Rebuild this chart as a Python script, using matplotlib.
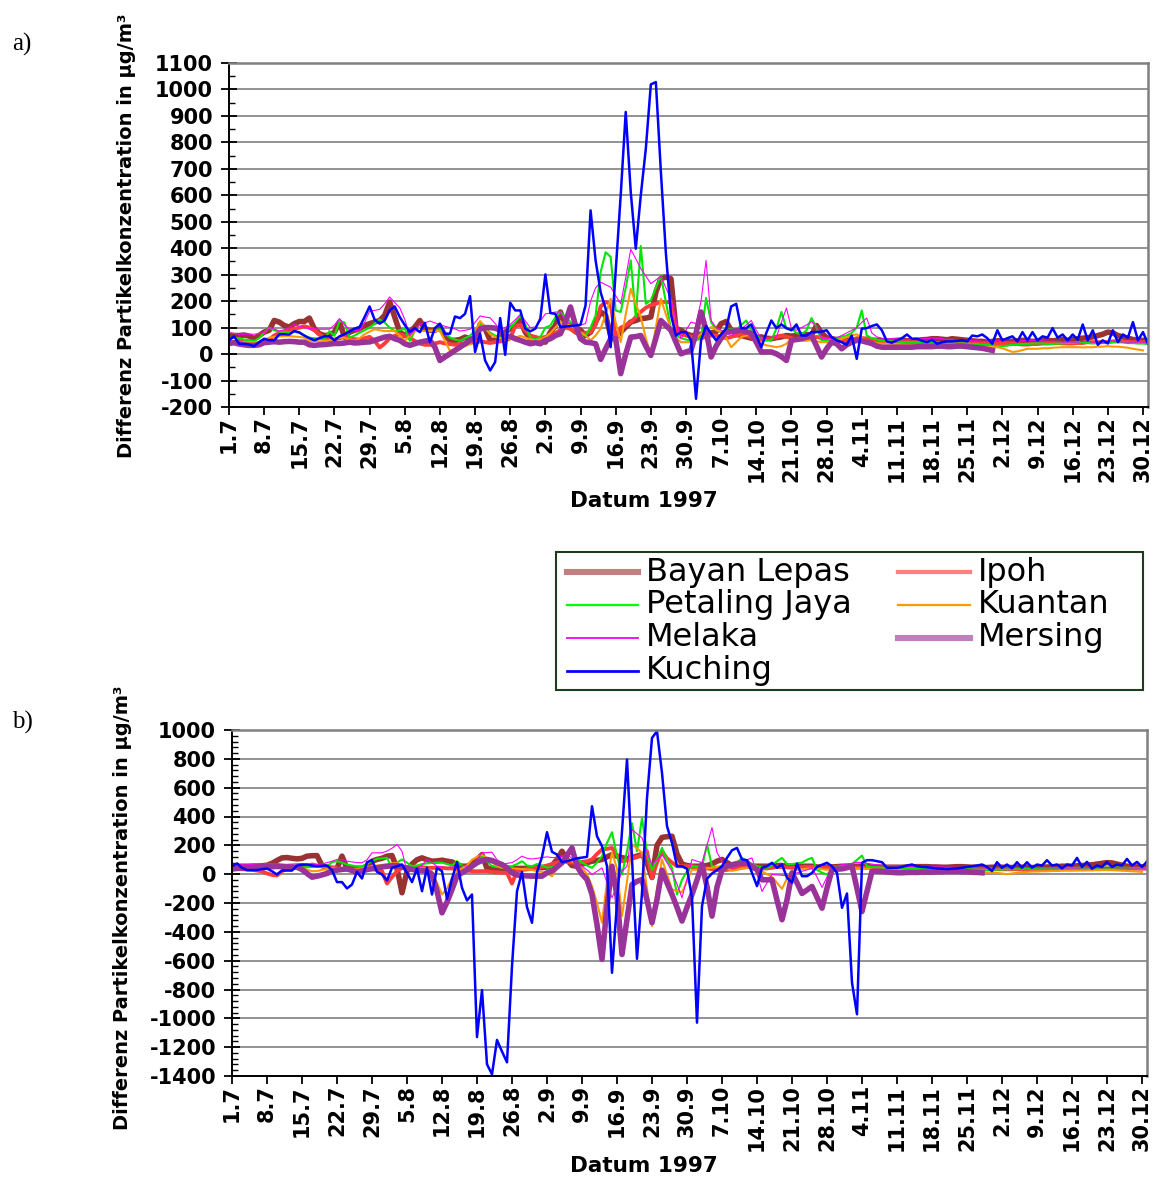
import numpy as np
import matplotlib
matplotlib.use('Agg')
import matplotlib.pyplot as plt
from matplotlib.lines import Line2D
from matplotlib.patches import Rectangle
from matplotlib.ticker import MultipleLocator

plt.rcParams['font.family'] = ['DejaVu Sans']
plt.rcParams['font.weight'] = 'bold'
plt.rcParams['axes.unicode_minus'] = False

nan = np.nan

stations = ['Bayan Lepas', 'Ipoh', 'Petaling Jaya', 'Kuantan', 'Melaka', 'Mersing', 'Kuching']
tick_labels = ['1.7', '8.7', '15.7', '22.7', '29.7', '5.8', '12.8', '19.8', '26.8', '2.9',
               '9.9', '16.9', '23.9', '30.9', '7.10', '14.10', '21.10', '28.10', '4.11',
               '11.11', '18.11', '25.11', '2.12', '9.12', '16.12', '23.12', '30.12']
days = np.arange(184)          # 1.7.1997 .. 31.12.1997
tick_days = np.arange(0, 183, 7)

# ---- a) daily values, one row per week (starting 1.7, 8.7, ...) ----
a_bayan = [72, 70, 70, 72, 68, 58, 70,
           83, 90, 127, 121, 108, 102, 115,
           123, 123, 136, 96, 77, 70, 72,
           83, 121, 64, 83, 90, 96, 108,
           115, 121, 127, 146, 197, 140, 83,
           70, 83, 102, 127, 96, 90, 90,
           102, 70, 52, 52, 55, 64, 58,
           52, 112, 96, 52, 52, 58, 83,
           96, 108, 127, 83, 58, 52, 52,
           45, 83, 108, 159, 108, 108, 102,
           90, 70, 83, 121, 159, 146, 70,
           64, 83, 102, 121, 127, 134, 136,
           140, 234, 285, 291, 285, 96, 90,
           77, 70, 70, 75, 75, 80, 85,
           115, 123, 90, 75, 70, 65, 60,
           62, 65, 60, 58, 62, 65, 70,
           68, 70, 72, 74, 72, 108, 80,
           62, 58, 55, 52, 52, 52, 52,
           55, 55, 52, 52, 50, 50, 50,
           52, 52, 50, 50, 52, 54, 55,
           58, 58, 56, 54, 58, 56, 54,
           52, 50, 48, 48, 45, 48, 50,
           50, 48, 48, 50, 52, 50, 48,
           48, 50, 52, 50, 52, 55, 52,
           55, 58, 60, 62, 65, 70, 75,
           83, 80, 70, 65, 60, 55, 52,
           52, 50]
a_ipoh = [40, 45, 50, 45, 40, 35, 38,
          45, 55, 70, 80, 85, 90, 95,
          100, 105, 100, 90, 75, 60, 55,
          55, 60, 65, 60, 56, 55, 60,
          65, 50, 25, 40, 60, 69, 75,
          69, 60, 50, 40, 35, 35, 40,
          45, 40, 38, 35, 38, 40, 42,
          45, 48, 45, 42, 45, 48, 50,
          60, 106, 110, 90, 70, 65, 60,
          65, 70, 80, 90, 100, 95, 80,
          75, 80, 83, 110, 180, 197, 190,
          64, 100, 108, 120, 140, 160, 175,
          185, 190, 197, 197, 195, 83, 75,
          70, 65, 60, 60, 65, 70, 70,
          65, 60, 65, 70, 75, 70, 65,
          60, 55, 55, 60, 65, 70, 65,
          60, 55, 55, 55, 60, 65, 60,
          55, 55, 50, 50, 50, 55, 60,
          60, 58, 55, 50, 48, 48, 48,
          45, 45, 45, 45, 45, 45, 45,
          45, 42, 42, 40, 40, 40, 40,
          40, 40, 40, 38, 38, 38, 40,
          40, 40, 38, 38, 36, 36, 38,
          38, 40, 40, 42, 42, 40, 40,
          40, 42, 42, 45, 45, 45, 45,
          45, 48, 48, 48, 45, 45, 45,
          45, 45]
a_petaling = [56, 62, 60, 55, 52, 50, 60,
              81, 100, 90, 85, 84, 82, 85,
              80, 70, 62, 60, 58, 56, 87,
              69, 125, 119, 62, 70, 81, 90,
              100, 115, 131, 119, 100, 87, 90,
              96, 50, 87, 87, 88, 90, 92,
              94, 80, 62, 55, 50, 60, 69,
              90, 112, 95, 81, 70, 62, 70,
              100, 120, 144, 112, 62, 55, 65,
              100, 108, 140, 159, 140, 121, 90,
              77, 70, 100, 146, 310, 385, 367,
              165, 159, 250, 354, 140, 408, 190,
              203, 250, 297, 197, 96, 70, 60,
              55, 50, 52, 60, 212, 121, 90,
              83, 90, 96, 90, 110, 127, 90,
              70, 60, 52, 52, 96, 159, 96,
              96, 80, 75, 90, 136, 100, 52,
              52, 55, 60, 65, 70, 80, 100,
              165, 70, 60, 55, 50, 50, 48,
              48, 45, 45, 45, 45, 45, 45,
              45, 42, 40, 40, 40, 40, 40,
              40, 38, 38, 35, 35, 33, 30,
              30, 32, 35, 35, 38, 38, 40,
              40, 40, 38, 38, 40, 40, 42,
              42, 45, 45, 42, 40, 42, 45,
              45, 45, 48, 45, 45, 42, 40,
              40, 38]
a_kuantan = [48, 46, 44, 45, 44, 44, 46,
             55, 62, 65, 66, 68, 68, 66,
             65, 62, 50, 50, 48, 50, 52,
             56, 62, 62, 56, 50, 60, 75,
             85, 94, 90, 87, 87, 87, 70,
             50, 70, 87, 87, 87, 87, 87,
             87, 50, 12, 18, 25, 30, 37,
             80, 125, 100, 75, 65, 60, 56,
             56, 62, 69, 62, 56, 52, 56,
             64, 80, 100, 121, 115, 108, 95,
             83, 70, 52, 70, 96, 150, 209,
             120, 45, 150, 247, 190, 140, 60,
             -5, 100, 209, 150, 96, 60, 45,
             45, 45, 60, 77, 90, 102, 92,
             83, 60, 26, 45, 64, 70, 77,
             60, 40, 33, 30, 26, 30, 39,
             58, 55, 52, 52, 52, 48, 45,
             45, 48, 52, 58, 64, 70, 75,
             60, 50, 45, 42, 40, 40, 38,
             38, 36, 35, 35, 35, 34, 33,
             33, 32, 32, 30, 30, 28, 26,
             26, 26, 26, 26, 26, 26, 26,
             22, 15, 8, 10, 15, 20, 20,
             20, 22, 22, 24, 25, 26, 26,
             26, 26, 25, 26, 26, 28, 28,
             30, 28, 28, 26, 24, 20, 17,
             14, nan]
a_melaka = [81, 78, 75, 75, 75, 75, 78,
            81, 100, 95, 87, 92, 100, 112,
            105, 100, 96, 95, 94, 94, 94,
            110, 134, 110, 94, 90, 87, 120,
            162, 165, 169, 190, 216, 195, 175,
            131, 69, 90, 112, 118, 125, 118,
            112, 105, 100, 95, 87, 90, 94,
            120, 144, 140, 137, 115, 94, 100,
            112, 130, 150, 125, 100, 102, 125,
            152, 155, 159, 159, 123, 115, 108,
            110, 115, 200, 250, 272, 262, 253,
            220, 190, 290, 396, 360, 323, 295,
            266, 280, 295, 250, 209, 130, 58,
            90, 121, 115, 200, 354, 127, 100,
            90, 80, 70, 80, 95, 110, 127,
            90, 58, 60, 64, 64, 120, 174,
            96, 90, 100, 110, 123, 100, 58,
            58, 60, 62, 70, 80, 90, 100,
            120, 136, 80, 65, 60, 58, 58,
            58, 55, 55, 55, 58, 58, 58,
            60, 60, 58, 55, 55, 52, 52,
            52, 50, 50, 48, 48, 48, 50,
            50, 48, 48, 50, 50, 52, 52,
            50, 50, 48, 48, 48, 45, 45,
            45, 45, 48, 48, 45, 45, 45,
            48, 50, 48, 45, 45, 45, 45,
            45, 45]
a_mersing = [40, 43, 38, 35, 33, 33, 35,
             43, 45, 47, 45, 47, 48, 47,
             45, 45, 35, 33, 35, 36, 38,
             40, 40, 42, 45, 42, 43, 45,
             46, 52, 58, 64, 67, 58, 52,
             39, 33, 39, 45, 49, 52, 26,
             -24, -11, 1, 14, 26, 39, 52,
             64, 95, 100, 100, 98, 90, 64,
             67, 58, 52, 45, 39, 43, 39,
             52, 58, 70, 77, 121, 178, 108,
             58, 45, 43, 39, -20, 20, 58,
             58, -74, 0, 64, 66, 70, 30,
             -5, 60, 127, 108, 90, 45, 1,
             8, 14, 80, 159, 90, -11, 30,
             60, 83, 86, 88, 90, 85, 77,
             45, 8, 8, 8, 1, -10, -24,
             52, 55, 58, 64, 70, 30, -11,
             20, 45, 39, 20, 35, 45, 52,
             50, 45, 40, 30, 26, 26, 26,
             26, 26, 26, 26, 28, 28, 28,
             28, 30, 30, 28, 28, 30, 30,
             28, 26, 24, 22, 18, 14, nan,
             nan, nan, nan, nan, nan, nan, nan,
             nan, nan, nan, nan, nan, nan, nan,
             nan, nan, nan, nan, nan, nan, nan,
             nan, nan, nan, nan, nan, nan, nan,
             nan, nan]
a_kuching = [52, 67, 39, 38, 36, 30, 45,
             58, 52, 52, 74, 75, 74, 87,
             82, 70, 60, 52, 60, 67, 67,
             52, 67, 75, 85, 96, 102, 140,
             180, 130, 115, 127, 165, 180, 140,
             110, 83, 98, 83, 118, 45, 98,
             115, 77, 77, 142, 136, 152, 219,
             8, 77, -24, -62, -30, 136, -3,
             194, 165, 165, 96, 86, 96, 134,
             301, 155, 152, 102, 104, 106, 108,
             111, 184, 543, 354, 234, 171, 26,
             310, 600, 915, 612, 398, 600, 776,
             1019, 1028, 688, 380, 150, 70, 83,
             83, 52, -169, 52, 106, 77, 52,
             75, 96, 180, 190, 98, 98, 112,
             70, 26, 80, 127, 98, 112, 98,
             90, 112, 70, 70, 83, 83, 85,
             90, 64, 52, 45, 35, 70, -18,
             96, 98, 106, 112, 90, 48, 43,
             52, 60, 74, 58, 58, 50, 45,
             54, 39, 45, 48, 48, 50, 52,
             48, 70, 67, 74, 60, 39, 90,
             52, 60, 67, 48, 83, 52, 83,
             52, 67, 62, 98, 62, 74, 52,
             74, 54, 112, 52, 90, 35, 52,
             40, 90, 45, 74, 62, 121, 52,
             83, 39]

# ---- b) daily values, one row per week ----
b_bayan = [55, 55, 55, 55, 56, 56, 58,
           62, 75, 95, 113, 115, 110, 106,
           110, 125, 128, 129, 60, 44, 40,
           40, 125, 40, 40, 38, 40, 55,
           90, 102, 110, 125, 129, 40, -129,
           20, 70, 100, 113, 100, 90, 92,
           97, 90, 85, 65, 55, 55, 70,
           100, 136, 40, 40, 40, 40, 40,
           40, 40, 40, 40, 42, 45, 45,
           50, 60, 100, 159, 100, 60, 55,
           70, 80, 90, 95, 102, 120, 136,
           125, 115, 106, 115, 125, 136, 80,
           -23, 200, 255, 260, 263, 140, 70,
           60, 55, 55, 55, 60, 70, 90,
           102, 80, 60, 55, 55, 55, 55,
           55, 55, 55, 55, 60, 60, 55,
           55, 55, 55, 55, 55, 50, 48,
           48, 50, 52, 55, 55, 55, 55,
           55, 52, 50, 50, 48, 48, 48,
           48, 48, 50, 50, 52, 52, 52,
           50, 50, 48, 48, 50, 52, 52,
           50, 48, 48, 46, 46, 48, 48,
           48, 46, 46, 48, 48, 48, 46,
           46, 48, 50, 50, 52, 55, 55,
           55, 58, 60, 62, 65, 70, 75,
           80, 78, 70, 62, 55, 52, 50,
           50, 48]
b_ipoh = [32, 35, 35, 32, 30, 25, 20,
          5, -5, -9, 20, 40, 44, 50,
          52, 55, 67, 60, 55, 50, 45,
          40, 35, 30, 30, 35, 40, 40,
          35, 30, 21, -65, -20, 20, 44,
          50, 52, 50, 48, 44, 44, 44,
          44, 40, 40, 35, 30, 25, 21,
          20, 21, 21, 15, 12, 10, 9,
          -65, 21, 30, 35, 40, 45, 50,
          60, 70, 80, 90, 85, 80, 80,
          85, 90, 102, 140, 171, 176, 182,
          130, 90, 95, 110, 120, 135, 159,
          -28, 80, 159, 110, 80, 55, 55,
          55, 55, 50, 45, 40, 35, 30,
          25, 30, 35, 40, 45, 50, 50,
          45, 40, 40, 45, 50, 50, 48,
          45, 45, 48, 50, 50, 48, 45,
          45, 45, 48, 50, 50, 45, 45,
          45, 44, 42, 42, 40, 40, 40,
          40, 38, 38, 38, 36, 36, 36,
          36, 36, 35, 35, 35, 35, 34,
          34, 34, 34, 34, 34, 34, 34,
          34, 34, 34, 35, 35, 35, 36,
          36, 36, 36, 38, 38, 38, 38,
          38, 38, 38, 40, 40, 40, 40,
          40, 40, 40, 40, 38, 38, 38,
          38, 38]
b_petaling = [55, 55, 55, 56, 56, 55, 55,
              55, 55, 55, 55, 50, 50, 50,
              48, 48, 50, 50, 52, 55, 83,
              90, 80, 67, 60, 55, 55, 70,
              90, 106, 110, 113, 44, 80, 102,
              80, 55, 60, 70, 75, 78, 80,
              80, 70, 60, 90, 60, 45, 55,
              80, 125, 90, 55, 50, 45, 50,
              55, 70, 90, 60, 55, 70, 60,
              45, 50, 60, 90, 136, 148, 110,
              80, 60, 44, 80, 125, 217, 291,
              125, -2, 159, 353, 159, 390, 148,
              30, 100, 182, 100, 44, -141, -39,
              20, 55, 50, 48, 206, 55, 50,
              55, 55, 55, 80, 113, 90, 70,
              55, 50, 44, 60, 90, 113, 70,
              70, 75, 80, 100, 113, 30, 10,
              -2, 30, 55, 55, 60, 70, 100,
              129, 55, 50, 48, 45, 45, 44,
              44, 44, 42, 42, 40, 40, 40,
              40, 38, 38, 36, 36, 36, 35,
              35, 34, 33, 32, 30, 30, 32,
              32, 34, 35, 36, 36, 38, 38,
              38, 40, 40, 40, 42, 42, 42,
              42, 44, 44, 42, 42, 44, 45,
              45, 46, 46, 45, 44, 42, 42,
              40, 40]
b_kuantan = [40, 40, 38, 36, 35, 35, 38,
             40, 42, 40, 42, 42, 44, 44,
             42, 30, 21, 21, 30, 35, 40,
             40, 42, 40, 35, 32, 40, 50,
             55, 60, 65, 67, 75, 79, 60,
             40, 38, 40, 42, 40, 20, -60,
             -141, -100, -28, 20, 40, 60, 100,
             120, 136, 110, 79, 60, 45, 40,
             40, 38, 35, 32, 30, 20, 15,
             5, -14, 40, 80, 102, 90, 60,
             45, 0, -83, -200, -337, -50, 150,
             40, -291, -50, 206, 180, 148, -100,
             -360, -100, 102, 0, -106, -115, -125,
             -50, 32, 30, 35, 40, 45, 50,
             45, 40, 23, 30, 40, 45, 50,
             40, 20, 0, -20, -60, -102, -30,
             23, 30, 35, 38, 40, 38, 35,
             30, 35, 40, 45, 45, 45, 40,
             40, 38, 35, 32, 30, 30, 30,
             28, 28, 26, 26, 25, 25, 24,
             24, 22, 22, 20, 20, 20, 18,
             18, 18, 16, 14, 12, 10, 8,
             5, 0, 5, 10, 14, 16, 18,
             18, 20, 20, 22, 22, 24, 24,
             24, 25, 25, 26, 26, 28, 28,
             28, 28, 26, 24, 22, 20, 18,
             16, nan]
b_melaka = [60, 62, 65, 65, 68, 70, 70,
            72, 74, 72, 70, 68, 70, 72,
            74, 70, 68, 66, 70, 80, 90,
            102, 100, 90, 85, 80, 79, 100,
            148, 148, 148, 160, 180, 206, 159,
            20, 30, 40, 60, 102, 80, 55,
            50, 45, 50, 55, 60, 55, 50,
            100, 148, 150, 152, 100, 70, 75,
            80, 100, 125, 110, 105, 110, 115,
            120, 115, 115, 125, 136, 110, 80,
            55, 30, -2, 20, 44, -60, -164,
            -80, 20, 55, 310, 280, 252, 150,
            67, 100, 136, 80, 20, -70, -164,
            -30, 102, 90, 80, 200, 323, 150,
            90, 60, 41, 55, 80, 100, 113,
            0, -120, -60, -2, -5, -8, -10,
            0, 9, 20, 30, 41, -20, -92,
            -20, 55, 60, 65, 70, 75, 83,
            80, 75, 70, 65, 62, 60, 60,
            58, 56, 55, 55, 54, 54, 52,
            52, 50, 50, 48, 48, 48, 46,
            46, 45, 45, 44, 44, 45, 45,
            45, 44, 44, 45, 46, 46, 46,
            45, 45, 44, 44, 44, 42, 42,
            42, 42, 44, 44, 45, 45, 45,
            46, 46, 45, 44, 44, 42, 42,
            42, 40]
b_mersing = [37, 40, 42, 45, 45, 48, 50,
             50, 52, 55, 52, 50, 50, 48,
             32, 5, -21, -14, -5, 5, 21,
             28, 33, 37, 25, 14, 22, 32,
             38, 44, 50, 55, 58, 60, 50,
             39, 33, 28, 25, 21, -2, -118,
             -268, -194, -106, -14, 10, 30, 55,
             79, 95, 102, 95, 80, 67, 44,
             9, -5, -10, -12, -14, -14, -14,
             10, 21, 50, 79, 130, 182, 55,
             0, -37, -141, -350, -591, -222, 55,
             -152, -557, -314, -72, -50, -37, -180,
             -337, -175, 28, -60, -141, -230, -325,
             -230, -141, -40, 67, -85, -291, -90,
             30, 55, 65, 74, 77, 79, 50,
             32, -39, -39, -39, -180, -316, -178,
             9, -60, -134, -110, -85, -160, -236,
             -97, 32, 35, 37, 45, 55, -100,
             -259, -120, 21, 21, 18, 15, 12,
             10, 10, 12, 12, 12, 14, 14,
             14, 16, 16, 18, 18, 18, 16,
             16, 14, 12, 10, nan, nan, nan,
             nan, nan, nan, nan, nan, nan, nan,
             nan, nan, nan, nan, nan, nan, nan,
             nan, nan, nan, nan, nan, nan, nan,
             nan, nan, nan, nan, nan, nan, nan,
             nan, nan]
b_kuching = [55, 74, 44, 28, 28, 28, 35,
             39, 20, -2, 25, 25, 25, 60,
             65, 67, 60, 55, 58, 60, 28,
             -55, -55, -99, -72, 16, -30, 83,
             97, 16, -2, -44, 44, 55, 67,
             9, -55, 39, -118, 44, -141, 44,
             21, -171, -32, 83, -95, -182, -141,
             -1130, -804, -1319, -1388, -1150, -1230, -1305,
             -638, -118, 14, -229, -337, 14, 120,
             291, 155, 136, 83, 90, 100, 110,
             115, 120, 471, 263, 194, 55, -684,
             -200, 300, 795, 100, -587, -129, 529,
             945, 991, 702, 333, 217, 55, 55,
             37, -164, -1030, -222, -32, 5, 28,
             55, 113, 166, 182, 102, 97, 9,
             -83, 44, 55, 79, 44, 67, -25,
             -60, 74, -14, -14, 9, 51, 65,
             79, 55, 9, -233, -134, -753, -972,
             79, 97, 97, 90, 83, 44, 44,
             44, 50, 60, 67, 55, 50, 48,
             44, 40, 38, 35, 38, 40, 44,
             50, 55, 60, 67, 50, 21, 83,
             44, 67, 40, 83, 45, 83, 45,
             67, 60, 97, 60, 67, 40, 67,
             60, 113, 50, 85, 38, 60, 50,
             85, 50, 67, 60, 106, 60, 85,
             50, 88]

panel_a = [a_bayan, a_ipoh, a_petaling, a_kuantan, a_melaka, a_mersing, a_kuching]
panel_b = [b_bayan, b_ipoh, b_petaling, b_kuantan, b_melaka, b_mersing, b_kuching]

# line styles (plot) and legend sample colours
colors = ['#993333', '#ff3b3b', '#00e600', '#ff9900', '#ff00ff', '#993399', '#0000ff']
legend_colors = ['#c08080', '#ff8080', '#00ff00', '#ff9900', '#ff00ff', '#c080c0', '#0000ff']
widths = [4.0, 2.8, 1.5, 1.5, 0.8, 4.0, 1.8]

W, H = 1158, 1177
fig = plt.figure(figsize=(W / 100, H / 100), dpi=100)


def px_box(x0, y0, x1, y1):
    return [x0 / W, 1 - y1 / H, (x1 - x0) / W, (y1 - y0) / H]


def draw_panel(rect, series, lo, hi, step, minor):
    ax = fig.add_axes(rect)
    for vals, c, lw in zip(series, colors, widths):
        vals = np.asarray(vals, dtype=float)
        assert len(vals) == len(days)
        ax.plot(days, vals, color=c, lw=lw, solid_joinstyle='round')
    ax.set_xlim(0, 183)
    ax.set_ylim(lo, hi)
    ax.yaxis.set_major_locator(MultipleLocator(step))
    ax.yaxis.set_minor_locator(MultipleLocator(minor))
    ax.set_xticks(tick_days)
    ax.set_xticklabels(tick_labels, rotation=90)
    ax.tick_params(axis='both', labelsize=15)
    ax.tick_params(axis='y', which='major', direction='inout', length=11, width=1.3, pad=6)
    ax.tick_params(axis='y', which='minor', direction='in', length=4.5, width=1.0)
    ax.tick_params(axis='x', which='major', direction='out', length=5.5, width=1.3, pad=1)
    ax.grid(axis='y', which='major', color='#808080', lw=1.2)
    ax.set_axisbelow(True)
    for s in ['left', 'bottom']:
        ax.spines[s].set_color('black')
        ax.spines[s].set_linewidth(1.4)
    for s in ['top', 'right']:
        ax.spines[s].set_color('#808080')
        ax.spines[s].set_linewidth(1.8)
    return ax


ax_a = draw_panel(px_box(229, 63, 1148, 407), panel_a, -200, 1100, 100, 50)
ax_b = draw_panel(px_box(232, 730, 1147, 1076), panel_b, -1400, 1000, 200, 40)

ylab = 'Differenz Partikelkonzentration in µg/m³'
fig.text(127 / W, 1 - 236 / H, ylab, rotation=90, ha='center', va='center', fontsize=14)
fig.text(122 / W, 1 - 908 / H, ylab, rotation=90, ha='center', va='center', fontsize=14)
fig.text(644 / W, 1 - 501 / H, 'Datum 1997', ha='center', va='center', fontsize=15.5)
fig.text(644 / W, 1 - 1166 / H, 'Datum 1997', ha='center', va='center', fontsize=15.5)
fig.text(12 / W, 1 - 44 / H, 'a)', ha='left', va='center', fontsize=18,
         family='Liberation Serif', fontweight='normal')
fig.text(12 / W, 1 - 722 / H, 'b)', ha='left', va='center', fontsize=18,
         family='Liberation Serif', fontweight='normal')

# legend box between the panels, two columns filled row by row
fig.add_artist(Rectangle((556 / W, 1 - 690 / H), (1143 - 556) / W, (690 - 552) / H,
                         transform=fig.transFigure, facecolor='white',
                         edgecolor='#1e3c1e', lw=1.5))
row_y = [572, 605, 638, 671]
col_x = [(567, 638, 646), (898, 970, 978)]
for i, name in enumerate(stations):
    r, c = i // 2, i % 2
    x0, x1, xt = col_x[c]
    y = 1 - row_y[r] / H
    fig.add_artist(Line2D([x0 / W, x1 / W], [y, y], transform=fig.transFigure,
                          color=legend_colors[i], lw=max(widths[i], 1.2) * 1.1))
    fig.text(xt / W, y, name, ha='left', va='center', fontsize=23, fontweight='normal')

fig.savefig('out.png', dpi=100)
